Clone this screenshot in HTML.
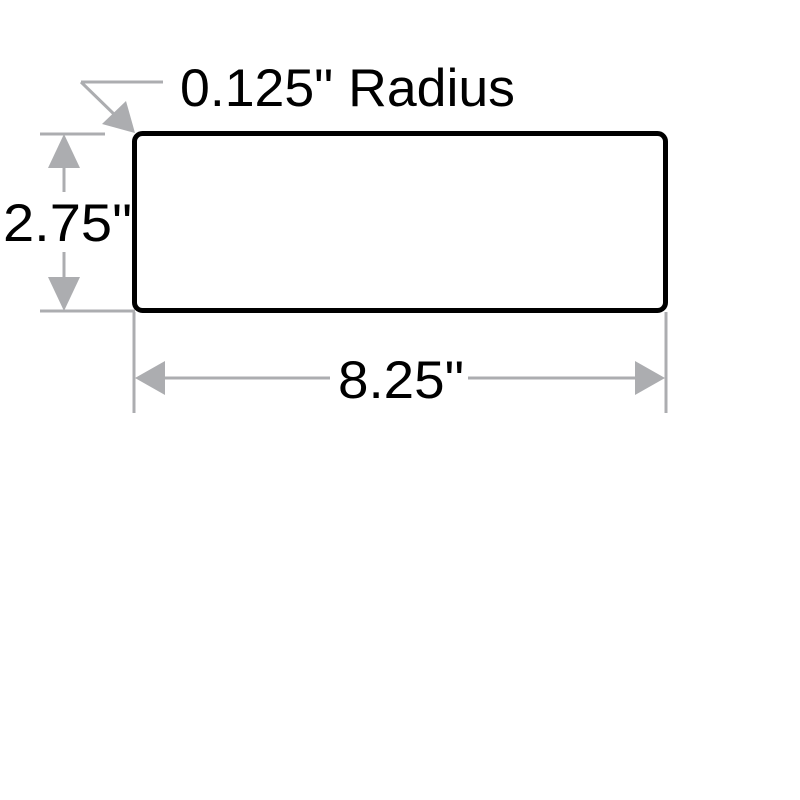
<!DOCTYPE html>
<html><head><style>html,body{margin:0;padding:0;background:#fff}svg{display:block}</style></head>
<body>
<svg width="800" height="800" viewBox="0 0 800 800" xmlns="http://www.w3.org/2000/svg">
<g stroke="#acadb0" stroke-width="3" fill="none">
<path d="M81 82 H163"/>
<path d="M81 82 L118 118"/>
<path d="M40 134 H105"/>
<path d="M40 311 H135"/>
<path d="M64 165 V192"/>
<path d="M64 252 V280"/>
<path d="M134 312 V413"/>
<path d="M666 312 V413"/>
<path d="M165 378 H330"/>
<path d="M468 378 H635"/>
</g>
<g fill="#acadb0">
<polygon points="135,133 102,124 126,101"/>
<polygon points="64,134 48,168 80,168"/>
<polygon points="64,311 48,277 80,277"/>
<polygon points="135,378 165,361 165,395"/>
<polygon points="665,378 635,361 635,395"/>
</g>
<rect x="134.5" y="133.5" width="531" height="177" rx="8" ry="8" fill="none" stroke="#000" stroke-width="5"/>
<g font-family="Liberation Sans, sans-serif" font-size="53" fill="#000">
<text x="180" y="106" textLength="335" lengthAdjust="spacingAndGlyphs">0.125" Radius</text>
<text x="3" y="241" textLength="129" lengthAdjust="spacingAndGlyphs">2.75"</text>
<text x="338" y="398" textLength="126" lengthAdjust="spacingAndGlyphs">8.25"</text>
</g>
</svg>
</body></html>
